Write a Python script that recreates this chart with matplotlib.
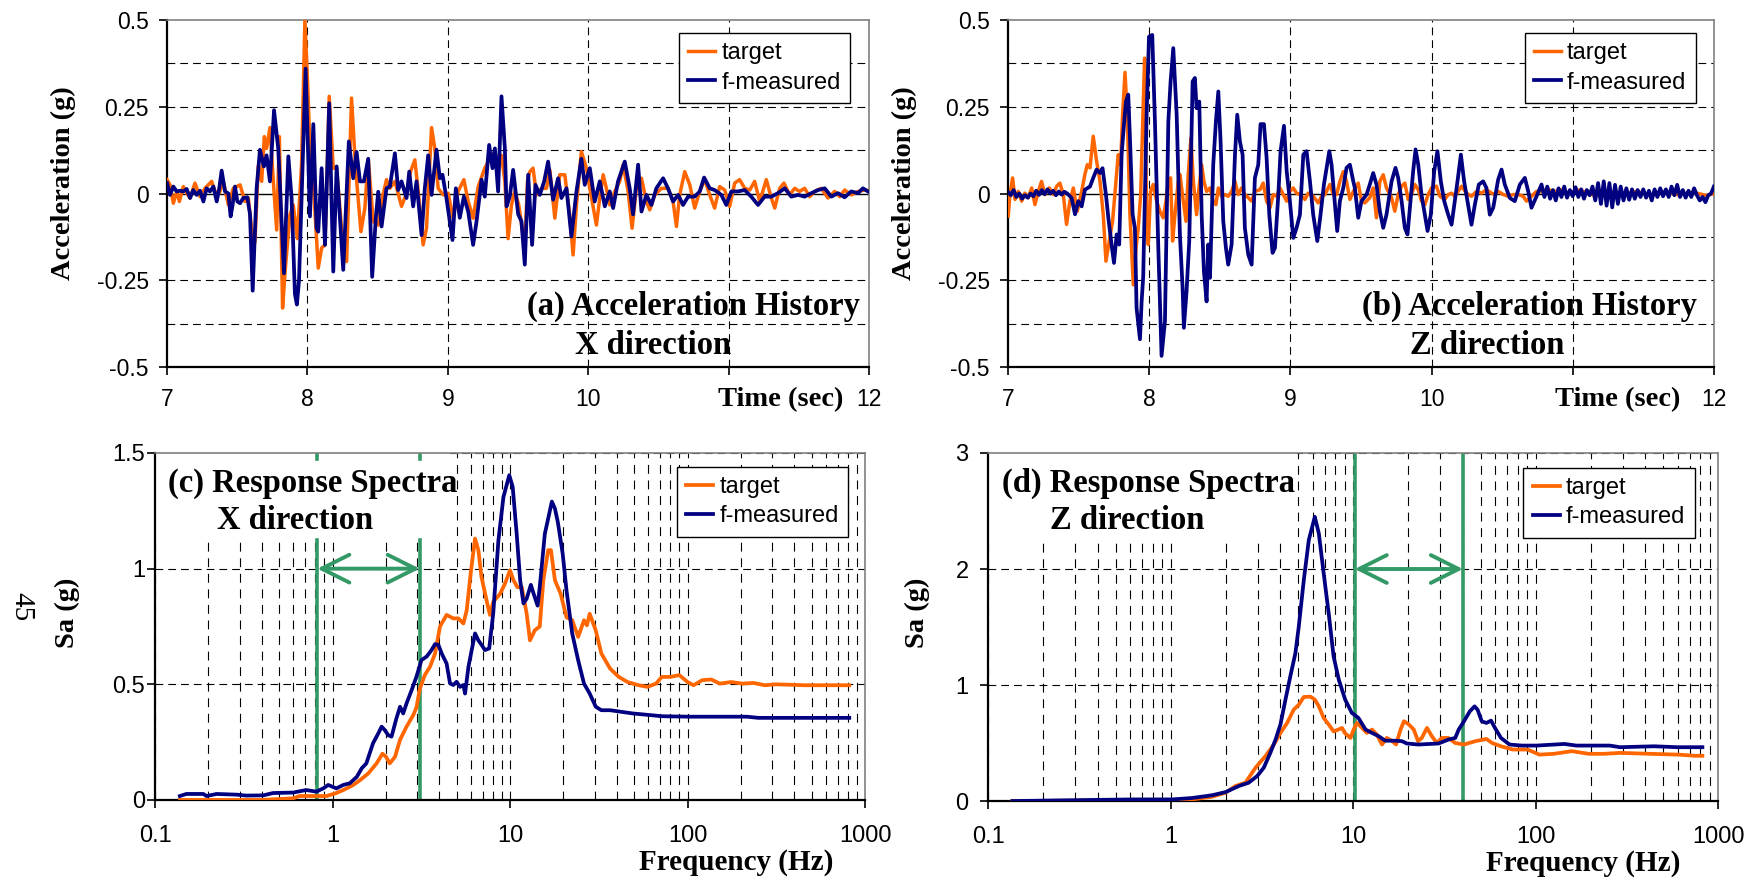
import matplotlib
matplotlib.use("Agg")
import matplotlib.pyplot as plt
import numpy as np
from matplotlib.patches import Rectangle
from matplotlib.ticker import FixedLocator, LogLocator, NullFormatter, FuncFormatter

ORANGE = "#FF6600"
NAVY = "#000080"
GREEN = "#339966"
SERIF = "Liberation Serif"
plt.rcParams["font.family"] = "Liberation Sans"

# ---- (a) acceleration history, X direction: (time s, accel g)
a_target = [(7.000,0.04),(7.021,0.025),(7.045,-0.028),(7.069,0.006),(7.088,-0.023),(7.116,0.02),(7.140,0.001),
    (7.164,-0.013),(7.199,0.03),(7.235,-0.009),(7.270,0.015),(7.318,0.035),(7.342,0.006),(7.372,0.001),(7.401,0.035),
    (7.437,-0.033),(7.472,0.015),(7.520,0.025),(7.555,-0.023),(7.579,-0.013),(7.610,-0.13),(7.626,-0.14),(7.650,0.08),
    (7.674,0.035),(7.693,0.164),(7.709,0.13),(7.733,0.19),(7.757,0.035),(7.781,-0.105),(7.800,0.164),(7.823,-0.33),
    (7.840,-0.23),(7.875,-0.062),(7.899,-0.033),(7.928,-0.13),(7.958,0.083),(7.982,0.5),(8.001,0.32),(8.018,0.131),
    (8.046,0.0),(8.077,-0.215),(8.101,-0.157),(8.125,-0.148),(8.155,0.28),(8.184,0.073),(8.208,0.073),(8.243,-0.1),
    (8.279,-0.196),(8.314,0.275),(8.343,0.073),(8.381,-0.11),(8.409,-0.042),(8.433,0.1),(8.469,-0.081),(8.504,-0.091),
    (8.535,-0.009),(8.563,0.04),(8.587,0.015),(8.623,0.035),(8.670,-0.037),(8.706,0.001),(8.734,0.063),(8.765,0.097),
    (8.789,0.006),(8.824,-0.148),(8.848,-0.1),(8.884,0.19),(8.907,0.13),(8.931,0.015),(8.967,-0.004),(9.002,0.001),
    (9.038,-0.071),(9.073,0.006),(9.114,0.04),(9.145,-0.023),(9.180,-0.071),(9.216,0.02),(9.263,0.073),(9.299,0.1),
    (9.335,0.121),(9.358,0.073),(9.382,0.11),(9.406,0.035),(9.429,-0.13),(9.453,-0.033),(9.477,0.006),(9.505,-0.033),
    (9.529,-0.1),(9.548,-0.157),(9.567,0.035),(9.584,0.063),(9.607,0.073),(9.631,-0.004),(9.667,0.015),(9.702,0.015),
    (9.726,0.068),(9.762,-0.071),(9.797,0.054),(9.833,0.054),(9.868,-0.062),(9.892,-0.177),(9.916,-0.033),(9.951,0.121),
    (9.987,0.073),(10.011,0.015),(10.058,-0.091),(10.082,-0.013),(10.106,0.054),(10.129,0.015),(10.153,-0.033),
    (10.189,0.006),(10.224,0.035),(10.248,0.083),(10.284,0.006),(10.312,-0.1),(10.343,0.015),(10.379,0.044),
    (10.414,-0.023),(10.438,-0.047),(10.474,-0.004),(10.521,0.015),(10.568,0.015),(10.604,-0.023),(10.628,-0.095),
    (10.651,-0.004),(10.687,0.063),(10.723,0.025),(10.758,-0.042),(10.794,0.006),(10.829,0.04),(10.865,-0.004),
    (10.900,-0.042),(10.936,0.02),(10.972,0.01),(11.007,-0.037),(11.043,0.03),(11.078,0.04),(11.114,0.015),
    (11.150,0.01),(11.185,0.035),(11.221,-0.023),(11.268,0.04),(11.304,-0.013),(11.328,-0.042),(11.363,0.015),
    (11.394,0.03),(11.434,-0.004),(11.470,0.015),(11.505,0.006),(11.541,0.015),(11.577,-0.009),(11.612,0.006),
    (11.660,0.015),(11.707,-0.013),(11.755,0.006),(11.790,-0.009),(11.826,0.01),(11.873,-0.004),(11.921,0.006),
    (11.968,0.01),(12.0,0.008)]
a_measured = [(7.000,0.03),(7.021,-0.004),(7.045,0.02),(7.069,0.006),(7.093,0.008),(7.116,0.006),(7.140,0.013),
    (7.164,-0.013),(7.187,0.01),(7.211,-0.004),(7.235,0.008),(7.259,-0.023),(7.282,0.015),(7.306,0.006),(7.330,0.02),
    (7.354,-0.023),(7.372,0.015),(7.389,0.066),(7.413,0.006),(7.437,0.0),(7.453,-0.066),(7.467,-0.033),(7.484,0.02),
    (7.501,-0.023),(7.520,-0.028),(7.543,-0.013),(7.572,-0.011),(7.591,-0.06),(7.610,-0.28),(7.638,0.015),(7.662,0.126),
    (7.690,0.078),(7.709,0.11),(7.733,0.035),(7.762,0.24),(7.792,0.13),(7.833,-0.23),(7.864,0.107),(7.887,-0.013),
    (7.911,-0.29),(7.925,-0.32),(7.940,-0.25),(7.958,-0.013),(7.987,0.36),(8.018,-0.066),(8.042,0.2),(8.065,-0.1),
    (8.077,-0.11),(8.101,0.073),(8.125,-0.148),(8.155,0.26),(8.184,-0.225),(8.208,0.078),(8.255,-0.22),(8.295,0.15),
    (8.326,0.044),(8.350,0.12),(8.374,0.035),(8.402,0.035),(8.433,0.1),(8.461,-0.24),(8.487,-0.07),(8.504,0.005),
    (8.528,-0.095),(8.563,0.015),(8.587,0.02),(8.623,0.116),(8.646,0.01),(8.670,0.035),(8.706,-0.013),(8.725,0.063),
    (8.753,-0.037),(8.777,0.035),(8.813,-0.12),(8.836,0.015),(8.860,0.11),(8.884,-0.004),(8.919,0.126),(8.943,0.044),
    (8.962,0.054),(8.990,-0.013),(9.033,-0.134),(9.057,0.015),(9.085,-0.07),(9.114,-0.009),(9.145,-0.052),
    (9.180,-0.148),(9.204,-0.081),(9.240,0.04),(9.263,-0.009),(9.294,0.14),(9.318,0.073),(9.335,0.13),(9.358,0.006),
    (9.382,0.28),(9.406,0.13),(9.418,-0.037),(9.441,-0.009),(9.465,0.068),(9.501,-0.06),(9.524,-0.08),(9.548,-0.205),
    (9.572,0.054),(9.600,-0.148),(9.624,0.025),(9.655,-0.004),(9.686,0.035),(9.714,0.092),(9.750,-0.018),(9.785,0.044),
    (9.809,-0.013),(9.845,0.015),(9.880,-0.124),(9.916,0.006),(9.951,0.1),(9.975,0.025),(10.011,0.073),(10.046,-0.023),
    (10.082,0.035),(10.118,-0.037),(10.153,0.006),(10.177,-0.042),(10.212,0.035),(10.260,0.092),(10.295,0.015),
    (10.319,-0.06),(10.355,0.083),(10.379,-0.052),(10.414,-0.004),(10.450,-0.033),(10.485,0.015),(10.533,0.044),
    (10.568,0.015),(10.604,-0.023),(10.640,-0.004),(10.675,-0.033),(10.711,-0.009),(10.758,-0.009),(10.794,0.006),
    (10.825,0.046),(10.865,0.015),(10.900,0.01),(10.948,-0.004),(10.983,-0.033),(11.019,0.006),(11.067,0.006),
    (11.114,0.01),(11.161,-0.009),(11.209,-0.033),(11.256,-0.009),(11.304,-0.009),(11.351,0.001),(11.399,0.015),
    (11.446,-0.009),(11.494,-0.004),(11.541,-0.009),(11.589,0.001),(11.636,0.01),(11.684,0.015),(11.731,-0.009),
    (11.778,0.001),(11.826,-0.011),(11.873,0.006),(11.921,0.001),(11.956,0.015),(11.992,0.006)]

# ---- (b) acceleration history, Z direction
b_target = [(7.002,-0.065),(7.014,-0.003),(7.033,0.045),(7.050,-0.017),(7.073,0.006),(7.097,-0.022),(7.120,0.001),
    (7.144,-0.012),(7.168,0.016),(7.191,-0.032),(7.215,0.006),(7.238,0.035),(7.262,-0.003),(7.293,0.016),(7.321,-0.003),
    (7.345,0.021),(7.368,0.03),(7.392,-0.003),(7.415,-0.089),(7.439,-0.022),(7.463,0.016),(7.491,-0.051),(7.522,0.006),
    (7.545,0.055),(7.562,0.083),(7.581,0.074),(7.604,0.165),(7.628,0.093),(7.652,0.035),(7.675,-0.061),(7.694,-0.195),
    (7.718,-0.137),(7.741,-0.08),(7.765,0.035),(7.781,0.112),(7.798,0.083),(7.812,0.227),(7.829,0.349),(7.845,0.227),
    (7.864,-0.061),(7.888,-0.263),(7.907,-0.157),(7.923,-0.099),(7.940,-0.003),(7.954,0.2),(7.968,0.39),(7.982,-0.061),
    (7.994,-0.147),(8.010,0.006),(8.029,0.026),(8.053,-0.022),(8.076,-0.051),(8.100,-0.07),(8.119,-0.022),(8.136,0.035),
    (8.152,0.045),(8.166,-0.137),(8.183,-0.061),(8.206,0.035),(8.218,0.055),(8.242,-0.022),(8.261,-0.08),(8.277,0.055),
    (8.296,0.16),(8.313,0.035),(8.336,-0.061),(8.353,0.016),(8.372,0.083),(8.388,0.035),(8.407,0.006),(8.431,0.016),
    (8.454,-0.022),(8.473,-0.032),(8.490,0.016),(8.513,-0.008),(8.537,-0.003),(8.560,-0.008),(8.584,0.006),
    (8.608,0.035),(8.631,-0.003),(8.655,0.016),(8.678,-0.003),(8.702,-0.012),(8.726,-0.022),(8.749,0.006),(8.785,0.011),
    (8.808,0.03),(8.832,-0.022),(8.856,-0.041),(8.879,-0.003),(8.903,-0.008),(8.926,0.016),(8.950,-0.003),
    (8.974,-0.022),(8.997,0.006),(9.021,0.016),(9.044,0.001),(9.068,-0.003),(9.103,-0.017),(9.127,0.001),
    (9.162,-0.008),(9.198,-0.027),(9.221,-0.008),(9.245,-0.003),(9.280,0.026),(9.304,-0.003),(9.328,-0.003),
    (9.351,0.035),(9.375,0.063),(9.398,0.035),(9.422,-0.017),(9.446,0.006),(9.481,0.03),(9.504,-0.022),(9.528,-0.027),
    (9.563,-0.012),(9.587,0.016),(9.610,-0.07),(9.634,0.035),(9.658,0.054),(9.681,0.016),(9.717,-0.012),(9.740,-0.051),
    (9.764,-0.003),(9.788,0.021),(9.811,0.03),(9.835,-0.017),(9.858,-0.003),(9.882,0.026),(9.906,0.011),(9.929,-0.022),
    (9.953,-0.032),(9.976,-0.003),(10.000,0.016),(10.035,0.021),(10.059,-0.008),(10.094,-0.017),(10.118,-0.003),
    (10.142,0.001),(10.165,-0.008),(10.189,0.006),(10.212,0.021),(10.248,0.001),(10.283,-0.008),(10.319,0.006),
    (10.354,0.001),(10.389,0.011),(10.425,0.001),(10.449,-0.003),(10.472,0.006),(10.508,-0.003),(10.543,-0.008),
    (10.578,-0.003),(10.614,-0.003),(10.649,-0.008),(10.673,-0.022),(10.708,-0.008),(10.744,0.006),(10.779,0.006),
    (10.826,0.011),(10.873,0.006),(10.921,0.011),(10.968,0.001),(11.05,0.01),(11.15,-0.005),(11.25,0.008),
    (11.35,-0.005),(11.45,0.006),(11.55,-0.004),(11.65,0.005),(11.75,-0.004),(11.85,0.004),(11.95,-0.006),(12.0,0.0)]
b_measured = [(7.00,0.005),(7.02,-0.005),(7.04,0.01),(7.06,-0.01),(7.08,0.0),(7.10,-0.015),(7.12,-0.005),(7.14,-0.012),
    (7.16,0.0),(7.18,-0.008),(7.20,0.008),(7.22,-0.004),(7.24,0.01),(7.26,-0.002),(7.28,0.012),(7.30,0.0),(7.32,0.008),
    (7.34,-0.005),(7.36,0.006),(7.38,-0.003),(7.40,0.005),(7.42,0.0),(7.451,-0.013),(7.475,-0.06),(7.498,-0.022),
    (7.522,-0.037),(7.545,0.011),(7.581,0.02),(7.604,0.045),(7.628,0.069),(7.652,0.059),(7.670,0.073),(7.694,-0.003),
    (7.711,-0.07),(7.734,-0.148),(7.751,-0.2),(7.770,-0.118),(7.788,-0.147),(7.805,0.112),(7.822,0.2),(7.836,0.265),
    (7.852,0.285),(7.864,0.161),(7.883,-0.06),(7.899,-0.099),(7.911,-0.33),(7.935,-0.42),(7.947,-0.31),(7.958,-0.24),
    (7.982,0.227),(7.999,0.452),(8.022,0.457),(8.041,0.208),(8.065,-0.157),(8.088,-0.468),(8.112,-0.368),(8.136,0.208),
    (8.152,0.323),(8.171,0.419),(8.195,0.227),(8.218,-0.119),(8.237,-0.272),(8.246,-0.387),(8.265,-0.282),
    (8.284,-0.138),(8.308,0.323),(8.324,0.333),(8.336,0.246),(8.355,0.265),(8.372,-0.061),(8.388,-0.224),(8.407,-0.311),
    (8.419,-0.147),(8.431,-0.243),(8.454,0.083),(8.473,0.208),(8.490,0.294),(8.506,0.15),(8.525,-0.08),(8.544,-0.157),
    (8.560,-0.205),(8.584,-0.147),(8.608,0.112),(8.624,0.227),(8.643,0.15),(8.662,0.112),(8.678,-0.099),(8.702,-0.176),
    (8.726,-0.205),(8.749,0.045),(8.773,0.083),(8.789,0.2),(8.813,0.2),(8.832,0.103),(8.851,-0.061),(8.874,-0.171),
    (8.891,-0.157),(8.915,-0.003),(8.931,0.122),(8.955,0.195),(8.974,0.065),(8.997,-0.022),(9.021,-0.128),
    (9.044,-0.099),(9.068,-0.061),(9.092,0.112),(9.115,0.122),(9.139,0.035),(9.162,-0.061),(9.191,-0.137),
    (9.214,-0.061),(9.238,0.026),(9.257,0.074),(9.276,0.122),(9.292,0.083),(9.316,-0.032),(9.332,-0.108),
    (9.351,-0.022),(9.375,0.016),(9.398,0.074),(9.422,0.083),(9.446,0.035),(9.457,0.016),(9.481,-0.07),(9.504,-0.022),
    (9.540,-0.003),(9.563,0.026),(9.587,0.059),(9.610,0.026),(9.634,-0.051),(9.658,-0.099),(9.681,-0.061),(9.717,0.035),
    (9.745,0.074),(9.764,0.045),(9.788,-0.022),(9.811,-0.099),(9.830,-0.118),(9.847,-0.041),(9.870,0.064),(9.887,0.127),
    (9.906,0.083),(9.929,-0.003),(9.953,-0.061),(9.972,-0.108),(9.995,-0.061),(10.019,0.064),(10.042,0.122),
    (10.066,0.035),(10.090,-0.022),(10.118,-0.061),(10.142,-0.09),(10.165,-0.022),(10.184,0.035),(10.208,0.112),
    (10.231,0.035),(10.255,-0.022),(10.283,-0.09),(10.307,-0.032),(10.335,0.026),(10.366,0.035),(10.389,0.016),
    (10.413,-0.061),(10.437,-0.041),(10.472,0.04),(10.496,0.069),(10.519,0.026),(10.555,-0.013),(10.590,-0.022),
    (10.626,0.026),(10.661,0.045),(10.685,0.006),(10.708,-0.041),(10.744,-0.008),(10.779,0.026),(10.80,-0.01),
    (10.82,0.02),(10.84,-0.015),(10.86,0.01),(10.88,-0.02),(10.90,0.015),(10.92,-0.01),(10.94,0.02),(10.96,-0.012),
    (10.98,0.01),(11.00,-0.008),(11.02,0.018),(11.04,-0.01),(11.06,0.012),(11.08,-0.015),(11.10,0.01),(11.12,-0.005),
    (11.14,0.02),(11.16,-0.02),(11.18,0.03),(11.20,-0.03),(11.22,0.035),(11.24,-0.035),(11.26,0.03),(11.28,-0.04),
    (11.30,0.025),(11.32,-0.03),(11.34,0.02),(11.36,-0.02),(11.38,0.015),(11.40,-0.018),(11.42,0.012),(11.44,-0.015),
    (11.46,0.01),(11.48,-0.01),(11.50,0.012),(11.52,-0.012),(11.54,0.008),(11.56,-0.02),(11.58,0.012),(11.60,-0.01),
    (11.62,0.015),(11.64,-0.008),(11.66,0.012),(11.68,-0.01),(11.70,0.02),(11.72,-0.005),(11.74,0.025),(11.76,-0.01),
    (11.78,0.01),(11.80,-0.012),(11.82,0.008),(11.84,-0.01),(11.86,0.015),(11.88,-0.005),(11.90,-0.02),(11.92,-0.01),
    (11.94,-0.025),(11.96,-0.005),(11.98,0.0),(12.00,0.02)]

# ---- (c) response spectra, X direction: (freq Hz, Sa g)
c_target = [(0.138,0.0),(0.39,0.0),(0.6,0.007),(0.65,0.017),(0.925,0.017),(1.05,0.03),(1.15,0.043),(1.31,0.065),
    (1.43,0.086),(1.59,0.115),(1.77,0.158),(1.91,0.2),(2.0,0.187),(2.1,0.158),(2.25,0.187),(2.4,0.26),(2.61,0.317),
    (2.85,0.367),(2.97,0.4),(3.1,0.48),(3.31,0.54),(3.54,0.576),(3.78,0.633),(4.03,0.75),(4.39,0.8),(4.79,0.785),
    (5.11,0.785),(5.46,0.763),(5.7,0.82),(6.0,0.98),(6.35,1.13),(6.63,1.08),(6.9,0.965),(7.37,0.864),(7.7,0.8),
    (8.04,0.857),(8.77,0.89),(9.36,0.935),(10.0,0.993),(10.45,0.95),(11.0,0.92),(11.65,0.92),(12.4,0.806),(12.95,0.69),
    (13.8,0.734),(14.7,0.75),(15.4,0.95),(16.4,1.08),(17.0,1.08),(17.9,0.95),(19.3,0.89),(20.8,0.79),(22.4,0.777),
    (24.2,0.705),(26.1,0.777),(27.1,0.755),(28.1,0.805),(30.4,0.733),(32.7,0.633),(36.6,0.568),(41.0,0.532),
    (45.9,0.51),(53.1,0.496),(59.4,0.489),(66.5,0.503),(71.6,0.532),(80.2,0.532),(89.8,0.54),(100,0.51),(108,0.496),
    (121,0.518),(136,0.521),(152,0.503),(176,0.51),(203,0.503),(235,0.506),(272,0.496),(315,0.5),(455,0.496),
    (660,0.496),(815,0.496)]
c_measured = [(0.138,0.017),(0.15,0.026),(0.187,0.026),(0.195,0.017),(0.222,0.026),(0.288,0.023),(0.327,0.019),
    (0.407,0.02),(0.462,0.03),(0.6,0.032),(0.71,0.043),(0.81,0.036),(0.886,0.05),(0.945,0.065),(1.05,0.05),
    (1.15,0.065),(1.25,0.072),(1.37,0.1),(1.46,0.137),(1.55,0.158),(1.69,0.245),(1.81,0.288),(1.89,0.317),(1.97,0.302),
    (2.06,0.28),(2.15,0.274),(2.29,0.353),(2.4,0.403),(2.5,0.374),(2.61,0.417),(2.79,0.475),(2.97,0.533),(3.17,0.605),
    (3.39,0.62),(3.61,0.648),(3.78,0.674),(3.95,0.67),(4.12,0.633),(4.39,0.59),(4.59,0.504),(4.79,0.497),(5.0,0.511),
    (5.22,0.489),(5.46,0.497),(5.58,0.46),(5.83,0.576),(6.08,0.648),(6.35,0.72),(6.63,0.69),(6.92,0.67),(7.22,0.648),
    (7.63,0.655),(8.04,0.806),(8.6,1.123),(9.18,1.31),(9.9,1.404),(10.35,1.353),(10.9,1.15),(11.4,0.95),(11.9,0.85),
    (12.4,0.87),(13.1,0.93),(13.6,0.89),(14.3,0.84),(14.7,0.92),(15.7,1.15),(17.2,1.29),(17.9,1.26),(18.6,1.2),
    (19.8,1.064),(20.8,0.906),(22.4,0.72),(24.2,0.604),(26.1,0.503),(28.1,0.46),(30.4,0.403),(32.7,0.388),
    (36.6,0.388),(42.4,0.381),(49.2,0.374),(61.5,0.367),(71.6,0.362),(103,0.36),(216,0.36),(251,0.355),(455,0.355),
    (815,0.355)]

# ---- (d) response spectra, Z direction
d_target = [(0.136,0.0),(0.57,0.006),(1.0,0.009),(1.31,0.014),(1.69,0.037),(2.0,0.072),(2.27,0.13),(2.57,0.158),
    (2.92,0.287),(3.31,0.387),(3.68,0.487),(4.0,0.587),(4.35,0.673),(4.73,0.788),(5.04,0.83),(5.37,0.897),(5.84,0.9),
    (6.17,0.874),(6.49,0.817),(6.9,0.716),(7.35,0.66),(7.82,0.6),(8.3,0.616),(8.7,0.63),(9.0,0.587),(9.67,0.544),
    (10.1,0.62),(10.5,0.673),(11.2,0.63),(11.9,0.587),(12.7,0.616),(13.5,0.573),(14.4,0.487),(15.3,0.544),(16.4,0.516),
    (17.2,0.487),(18.2,0.616),(19.0,0.688),(20.2,0.66),(21.5,0.616),(22.7,0.516),(23.8,0.544),(25.4,0.63),(27.0,0.559),
    (28.8,0.5),(30.6,0.544),(33.3,0.544),(36.3,0.5),(40.5,0.487),(46.5,0.515),(53.8,0.535),(57.8,0.5),(64.6,0.472),
    (74.9,0.444),(90.4,0.444),(105,0.4),(126,0.407),(158,0.43),(195,0.407),(236,0.407),(291,0.415),(423,0.407),
    (605,0.4),(747,0.39),(820,0.39)]
d_measured = [(0.136,0.0),(0.62,0.014),(1.02,0.014),(1.31,0.026),(1.69,0.05),(2.0,0.077),(2.37,0.13),(2.68,0.158),
    (2.98,0.215),(3.24,0.287),(3.52,0.415),(3.76,0.53),(4.0,0.66),(4.26,0.874),(4.53,1.075),(4.83,1.275),(5.04,1.504),
    (5.37,1.905),(5.72,2.25),(6.17,2.45),(6.49,2.307),(6.9,1.963),(7.35,1.619),(7.82,1.246),(8.35,1.046),(9.05,0.874),
    (9.84,0.76),(10.7,0.716),(11.7,0.616),(12.7,0.587),(13.8,0.559),(15.0,0.52),(17.0,0.52),(18.5,0.516),(19.7,0.496),
    (22.8,0.487),(29.4,0.496),(33.3,0.53),(36.3,0.544),(37.9,0.616),(40.5,0.687),(43.6,0.773),(46.3,0.816),(48.1,0.787),
    (50.7,0.687),(53.8,0.673),(57,0.693),(59.9,0.63),(64.6,0.544),(72,0.487),(84,0.478),(101,0.478),(144,0.492),
    (167,0.478),(255,0.478),(290,0.464),(447,0.472),(598,0.464),(820,0.464)]

# frequency band marked with green lines / arrows
c_band = [0.82, 3.1]
d_band = [10.2, 40.0]

time_ticks = [7, 8, 9, 10, 11, 12]
time_labels = ["7", "8", "9", "10", "", "12"]
acc_ticks = [-0.5, -0.25, 0, 0.25, 0.5]
acc_labels = ["-0.5", "-0.25", "0", "0.25", "0.5"]
freq_ticks = [0.1, 1, 10, 100, 1000]
c_sa_ticks = [0, 0.5, 1, 1.5]
d_sa_ticks = [0, 1, 2, 3]

fig = plt.figure(figsize=(17.6, 8.82), dpi=100)


def style_spines(ax):
    for s in ["left", "bottom"]:
        ax.spines[s].set_color("black")
        ax.spines[s].set_linewidth(1.6)
    for s in ["top", "right"]:
        ax.spines[s].set_color("#808080")
        ax.spines[s].set_linewidth(1.2)


def add_legend(ax, x, y, fs=17):
    leg = ax.legend(loc="upper right", bbox_to_anchor=(x, y), borderaxespad=0, fontsize=fs,
                    fancybox=False, framealpha=1, edgecolor="black", handlelength=1.15,
                    handletextpad=0.25, borderpad=0.4, labelspacing=0.3)
    leg.get_frame().set_linewidth(1.0)


def serif_text(ax, x, y, s, size=23.5, **kw):
    ax.text(x, y, s, transform=ax.transAxes, fontfamily=SERIF, fontweight="bold",
            fontsize=size, zorder=6, **kw)


def history(rect, target, measured, line1, line2, x1, x2, legx, time_x):
    ax = fig.add_axes(rect)
    t, v = np.array(target).T
    ax.plot(t, v, color=ORANGE, lw=2.5, label="target", zorder=3)
    t, v = np.array(measured).T
    ax.plot(t, v, color=NAVY, lw=2.7, label="f-measured", zorder=4)
    ax.set_xlim(7, 12)
    ax.set_ylim(-0.5, 0.5)
    ax.set_xticks(time_ticks)
    ax.set_xticklabels(time_labels)
    ax.set_yticks(acc_ticks)
    ax.set_yticklabels(acc_labels)
    for y in [-0.375, -0.25, -0.125, 0.125, 0.25, 0.375]:
        ax.axhline(y, color="black", lw=0.8, ls=(0, (7, 4.5)), zorder=1)
    for x in [8, 9, 10, 11]:
        ax.axvline(x, color="black", lw=0.8, ls=(0, (7, 4.5)), zorder=1)
    ax.axhline(0, color="black", lw=1.0, zorder=2)
    style_spines(ax)
    ax.tick_params(direction="out", length=6, width=1.2, labelsize=16.5)
    ax.tick_params(axis="x", pad=9)
    ax.tick_params(axis="y", pad=7)
    ax.set_ylabel("Acceleration (g)", fontfamily=SERIF, fontweight="bold", fontsize=20.5)
    ax.yaxis.set_label_coords(-0.129, 0.53)
    serif_text(ax, x1, 0.150, line1)
    serif_text(ax, x2, 0.0375, line2)
    serif_text(ax, time_x, -0.095, "Time (sec)", size=20.5, ha="right", va="center")
    add_legend(ax, legx, 0.9625)
    return ax


def spectra(rect, target, measured, yticks, band, line1, line2, x1, x2, legx, legy,
            ylab_x, ypad, freq_x, box_w, cut_lines):
    ax = fig.add_axes(rect)
    ymax = yticks[-1]
    f, v = np.array(target).T
    ax.plot(f, v, color=ORANGE, lw=2.7, label="target", zorder=3)
    f, v = np.array(measured).T
    ax.plot(f, v, color=NAVY, lw=2.7, label="f-measured", zorder=4)
    ax.set_xscale("log")
    ax.set_xlim(0.1, 1000)
    ax.set_ylim(0, ymax)
    ax.xaxis.set_major_locator(FixedLocator(freq_ticks))
    ax.xaxis.set_major_formatter(FuncFormatter(lambda val, p: f"{val:g}"))
    ax.xaxis.set_minor_locator(LogLocator(base=10, subs=range(2, 10)))
    ax.xaxis.set_minor_formatter(NullFormatter())
    ax.yaxis.set_major_locator(FixedLocator(yticks))
    ax.yaxis.set_major_formatter(FuncFormatter(lambda val, p: f"{val:g}"))
    ax.set_axisbelow(True)
    ax.grid(True, which="both", axis="x", color="black", lw=0.8, ls=(0, (8, 6)))
    ax.grid(True, which="major", axis="y", color="black", lw=0.8, ls=(0, (7, 4.5)))
    style_spines(ax)
    ax.tick_params(direction="out", length=6, width=1.2, labelsize=17)
    ax.tick_params(axis="x", which="minor", length=0)
    ax.tick_params(axis="x", pad=12)
    ax.tick_params(axis="y", pad=ypad)
    # white box behind the panel caption
    ax.add_patch(Rectangle((0, 0.749), box_w, 0.251, transform=ax.transAxes,
                           facecolor="white", edgecolor="none", zorder=1))
    tr = ax.get_xaxis_transform()
    for fb in band:
        if cut_lines:
            ax.plot([fb, fb], [0, 0.749], transform=tr, color=GREEN, lw=2.6, zorder=2)
            ax.plot([fb, fb], [0.983, 1], transform=tr, color=GREEN, lw=2.6, zorder=2)
        else:
            ax.plot([fb, fb], [0, 1], transform=tr, color=GREEN, lw=2.6, zorder=2)
    ax.annotate("", xy=(band[1], ymax / 1.5), xytext=(band[0], ymax / 1.5),
                arrowprops=dict(arrowstyle="<->,head_length=1.0,head_width=0.5", color=GREEN,
                                lw=2.8, shrinkA=0, shrinkB=0, mutation_scale=20), zorder=2)
    ax.set_ylabel("Sa (g)", fontfamily=SERIF, fontweight="bold", fontsize=20.5)
    ax.yaxis.set_label_coords(ylab_x, 0.54)
    serif_text(ax, x1, 0.888, line1)
    serif_text(ax, x2, 0.781, line2)
    serif_text(ax, freq_x, -0.18, "Frequency (Hz)", size=21, ha="right", va="center")
    add_legend(ax, legx, legy)
    return ax


history([0.0949, 0.5839, 0.3989, 0.3934], a_target, a_measured,
        "(a) Acceleration History", "X direction", 0.513, 0.581, 0.973, 0.964)
history([0.5727, 0.5839, 0.4011, 0.3934], b_target, b_measured,
        "(b) Acceleration History", "Z direction", 0.501, 0.569, 0.9745, 0.952)
spectra([0.0881, 0.0930, 0.4034, 0.3934], c_target, c_measured, c_sa_ticks, c_band,
        "(c) Response Spectra", "X direction", 0.018, 0.087, 0.976, 0.96,
        -0.106, 1, 0.956, 0.415, True)
spectra([0.5614, 0.0918, 0.4148, 0.3946], d_target, d_measured, d_sa_ticks, d_band,
        "(d) Response Spectra", "Z direction", 0.019, 0.085, 0.968, 0.957,
        -0.079, 8, 0.948, 0.423, False)

fig.text(21 / 1760, 1 - 607 / 882, "45", rotation=-90, fontfamily=SERIF, fontsize=21,
         ha="center", va="center")

fig.savefig("out.png", dpi=100)
